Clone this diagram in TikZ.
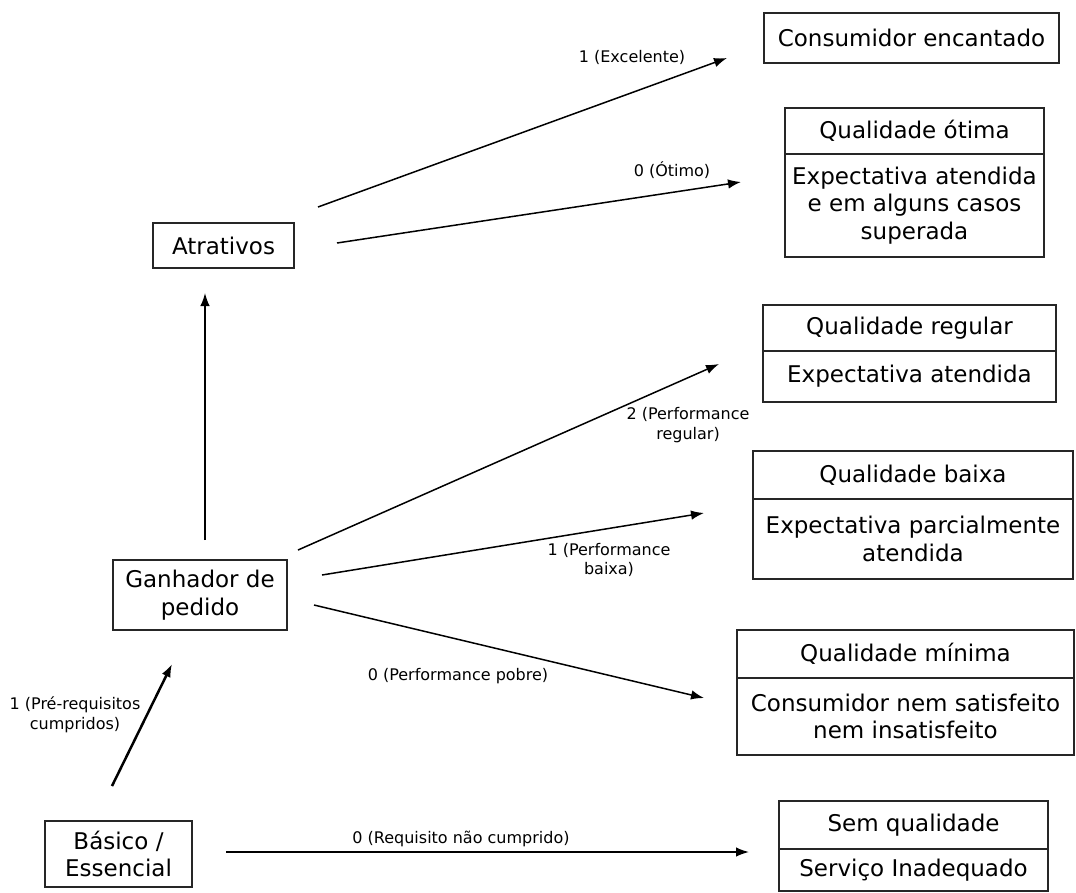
\documentclass[tikz,border=0pt]{standalone}
\usepackage{fontspec}
\setmainfont{DejaVu Sans}
\usetikzlibrary{arrows.meta}
\tikzset{
  box/.style={draw=black!85, line width=1.3pt, inner sep=0pt, align=center,
    font=\fontsize{23}{27.5}\selectfont},
  conn/.style={line width=1.5pt, -{Latex[length=13pt,width=9.5pt]}},
  lbl/.style={font=\fontsize{16}{19.5}\selectfont, align=center, inner sep=0pt},
}
\begin{document}
\begin{tikzpicture}[x=1pt,y=-1pt]
\useasboundingbox (0,0) rectangle (1076,892);
% boxes
\node[box, minimum width=295pt, minimum height=50pt] (enc) at (911.5,38) {Consumidor encantado};
\node[box, minimum width=259pt, minimum height=46pt] (otimaT) at (914.5,131) {Qualidade ótima};
\node[box, minimum width=259pt, minimum height=103pt] (otimaB) at (914.5,205.5) {Expectativa atendida\\e em alguns casos\\superada};
\node[box, minimum width=141pt, minimum height=45pt] (atr) at (223.5,245.5) {Atrativos};
\node[box, minimum width=293pt, minimum height=46pt] (regT) at (909.5,328) {Qualidade regular};
\node[box, minimum width=293pt, minimum height=51pt] (regB) at (909.5,376.5) {Expectativa atendida};
\node[box, minimum width=320pt, minimum height=48pt] (baixaT) at (913,475) {Qualidade baixa};
\node[box, minimum width=320pt, minimum height=80pt] (baixaB) at (913,539) {Expectativa parcialmente\\atendida};
\node[box, minimum width=174pt, minimum height=70pt] (gan) at (200,595) {Ganhador de\\pedido};
\node[box, minimum width=337pt, minimum height=48pt] (minT) at (905.5,654) {Qualidade mínima};
\node[box, minimum width=337pt, minimum height=77pt] (minB) at (905.5,716.5) {Consumidor nem satisfeito\\nem insatisfeito};
\node[box, minimum width=147pt, minimum height=66pt] (bas) at (118.5,854) {Básico /\\Essencial};
\node[box, minimum width=269pt, minimum height=48pt] (semT) at (913.5,825) {Sem qualidade};
\node[box, minimum width=269pt, minimum height=42pt] (semB) at (913.5,870) {Serviço Inadequado};
% connector end points
\coordinate (a1s) at (318,207);  \coordinate (a1e) at (727,58);
\coordinate (a2s) at (337,243);  \coordinate (a2e) at (741,182);
\coordinate (ups) at (205,540);  \coordinate (upe) at (205,293);
\coordinate (a3s) at (298,550);  \coordinate (a3e) at (719,364);
\coordinate (a4s) at (322,575);  \coordinate (a4e) at (704,513);
\coordinate (a5s) at (314,605);  \coordinate (a5e) at (704,698);
\coordinate (a6s) at (112,786);  \coordinate (a6e) at (172,664);
\coordinate (a7s) at (226,852);  \coordinate (a7e) at (749,852);
% connectors
\draw[conn] (a1s) -- (a1e);
\draw[conn] (a2s) -- (a2e);
\draw[conn] (ups) -- (upe);
\draw[conn] (a3s) -- (a3e);
\draw[conn] (a4s) -- (a4e);
\draw[conn] (a5s) -- (a5e);
\draw[conn, line width=2.5pt] (a6s) -- (a6e);
\draw[conn] (a7s) -- (a7e);
% labels
\node[lbl] (l1) at (632,57) {1 (Excelente)};
\node[lbl] (l2) at (672,170) {0 (Ótimo)};
\node[lbl] (l3) at (688,425) {2 (Performance\\regular)};
\node[lbl] (l4) at (609,560) {1 (Performance\\baixa)};
\node[lbl] (l5) at (458,676) {0 (Performance pobre)};
\node[lbl] (l6) at (75,715) {1 (Pré-requisitos\\cumpridos)};
\node[lbl] (l7) at (461,839) {0 (Requisito não cumprido)};
\end{tikzpicture}
\end{document}
